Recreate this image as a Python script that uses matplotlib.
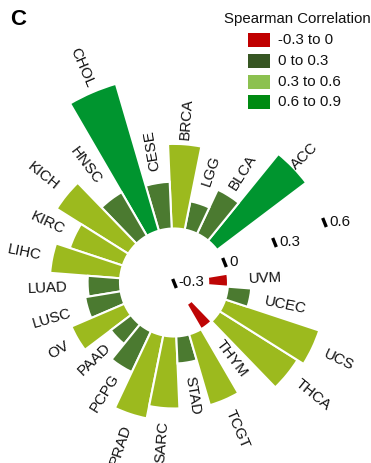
import numpy as np
import matplotlib
matplotlib.use("Agg")
import matplotlib.pyplot as plt
from matplotlib.patches import Rectangle

plt.rcParams["font.family"] = ["Liberation Sans", "DejaVu Sans"]

# cancer types, counter-clockwise starting from ACC
cancers = ["ACC", "BLCA", "LGG", "BRCA", "CESE", "CHOL", "HNSC", "KICH",
           "KIRC", "LIHC", "LUAD", "LUSC", "OV", "PAAD", "PCPG", "PRAD",
           "SARC", "STAD", "TCGT", "THYM", "THCA", "UCS", "UCEC", "UVM"]
rho = [0.62, 0.27, 0.16, 0.47, 0.26, 0.85, 0.28, 0.47,
       0.31, 0.39, 0.18, 0.20, 0.32, 0.14, 0.25, 0.47,
       0.40, 0.15, 0.41, -0.16, 0.51, 0.55, 0.13, -0.11]

legend_labels = ["-0.3 to 0", "0 to 0.3", "0.3 to 0.6", "0.6 to 0.9"]
tick_values = [-0.3, 0, 0.3, 0.6]

bar_colors = ["#BE0505", "#4B7A30", "#9CBA1E", "#00952F"]
legend_colors = ["#C00000", "#375623", "#8CC150", "#008A12"]

# distance (px) from the bar end to the centre of each label
label_gap_px = [16, 27, 35, 25, 33, 27, 42, 30,
                30, 29, 40, 37, 22, 31, 32, 32,
                34, 34, 32, 42, 33, 29, 36, 37]


def bin_of(v):
    if v < 0:
        return 0
    if v < 0.3:
        return 1
    if v < 0.6:
        return 2
    return 3


fig = plt.figure(figsize=(3.71, 4.63), dpi=100)
W, H = 371, 463

# polar axes centred at (174, 282.5) px, radius covers -0.3 .. 0.9
cx, cy, R = 174, 282.5, 216
px_per_unit = R / 1.2
ax = fig.add_axes([(cx - R) / W, (H - cy - R) / H, 2 * R / W, 2 * R / H],
                  projection="polar")
ax.set_rlim(-0.3, 0.9)
ax.set_axis_off()

n_slots = len(cancers) + 2
step = 2 * np.pi / n_slots
theta = np.deg2rad(44) + step * np.arange(len(cancers))
colors = [bar_colors[bin_of(v)] for v in rho]

ax.bar(theta, rho, width=step, bottom=0, color=colors,
       edgecolor="white", linewidth=1.5)

# category labels along the radius
for t, v, name, gap in zip(theta, rho, cancers, label_gap_px):
    deg = (np.rad2deg(t) + 180) % 360 - 180
    rot = deg
    if deg > 105 or deg < -90:
        rot = deg - 180 if deg > 0 else deg + 180
    ax.text(t, max(v, 0) + gap / px_per_unit, name, rotation=rot,
            rotation_mode="anchor", ha="center", va="center",
            fontsize=10.8, color="#111111")

# radial scale marks in the gap between UVM and ACC
tick_theta = np.deg2rad(22)
for tv in tick_values:
    ax.plot([tick_theta], [tv], marker=(2, 0, 22), markersize=7,
            markeredgewidth=2.4, color="black", clip_on=False)
    ax.annotate(f"{tv:g}", (tick_theta, tv), xytext=(3.5, 0),
                textcoords="offset points", ha="left", va="center",
                fontsize=10.8, color="#111111")

# legend
fig.text(224 / W, 1 - 22.5 / H, "Spearman Correlation", fontsize=10.8,
         ha="left", va="baseline", color="#111111")
for i, (lab, c) in enumerate(zip(legend_labels, legend_colors)):
    top = 33.3 + i * 20.7
    fig.add_artist(Rectangle((248 / W, 1 - (top + 14) / H), 22 / W, 14 / H,
                             transform=fig.transFigure, facecolor=c,
                             edgecolor="none"))
    fig.text(278 / W, 1 - (top + 7) / H, lab, fontsize=10.8,
             ha="left", va="center", color="#111111")

fig.text(10 / W, 1 - 25 / H, "C", fontsize=16, fontweight="bold",
         ha="left", va="baseline")

fig.savefig("out.png", dpi=100)
